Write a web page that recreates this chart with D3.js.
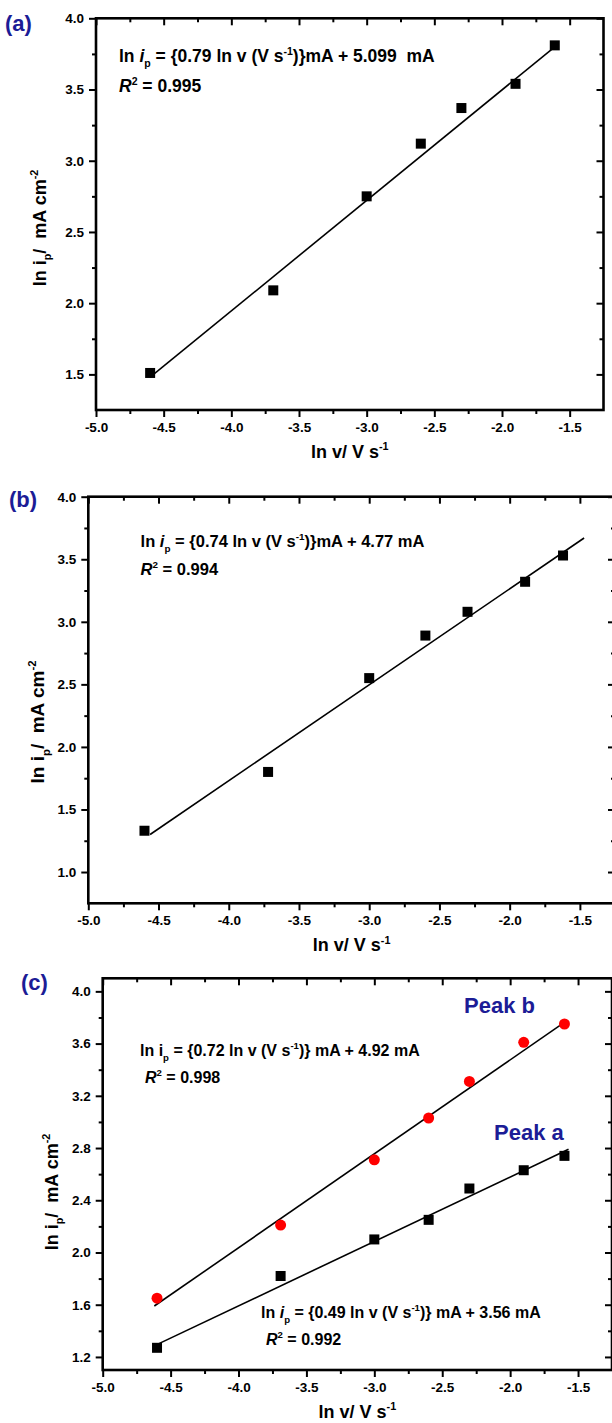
<!DOCTYPE html>
<html>
<head>
<meta charset="utf-8">
<script src="https://cdn.jsdelivr.net/npm/d3@7"></script>
<style>
  body { margin: 0; background: #fff; }
  svg { display: block; font-family: "Liberation Sans", Arial, sans-serif; font-weight: bold; }
  text { white-space: pre; }
</style>
</head>
<body>
<div id="chart"></div>
<script>
// ---- data ----
// (a)
const lnVa = [-4.60, -3.69, -3.00, -2.60, -2.30, -1.90, -1.61];
const lnIpA = [1.51, 2.09, 2.75, 3.12, 3.37, 3.54, 3.81];
const fitA = [[-4.60, 1.48], [-1.61, 3.80]];
// (b)
const lnVb = [-4.60, -3.72, -3.00, -2.60, -2.30, -1.89, -1.62];
const lnIpB = [1.33, 1.80, 2.55, 2.89, 3.08, 3.32, 3.53];
const fitB = [[-4.56, 1.30], [-1.47, 3.67]];
// (c)
const lnVc = [-4.60, -3.69, -3.00, -2.60, -2.30, -1.90, -1.60];
const peakB = [1.65, 2.21, 2.71, 3.03, 3.31, 3.61, 3.75];
const peakA = [1.27, 1.82, 2.10, 2.25, 2.49, 2.63, 2.74];
const fitPeakB = [[-4.62, 1.59], [-1.59, 3.77]];
const fitPeakA = [[-4.59, 1.30], [-1.57, 2.79]];

// tick values
const xTicks = [-5.0, -4.5, -4.0, -3.5, -3.0, -2.5, -2.0, -1.5];
const xMinor = [-4.75, -4.25, -3.75, -3.25, -2.75, -2.25, -1.75];
const yTicksAB = [1.0, 1.5, 2.0, 2.5, 3.0, 3.5, 4.0];
const yMinorAB = [0.75, 1.25, 1.75, 2.25, 2.75, 3.25, 3.75];
const yTicksC = [1.2, 1.6, 2.0, 2.4, 2.8, 3.2, 3.6, 4.0];
const yMinorC = [1.4, 1.8, 2.2, 2.6, 3.0, 3.4, 3.8];

const navy = "#1c1c96";

const svg = d3.select("#chart").append("svg")
  .attr("width", 612)
  .attr("height", 1423);

// write text made of plain / italic / sub / sup pieces
function rich(sel, parts, size) {
  let shift = 0;
  parts.forEach(([s, k]) => {
    const target = k === "sub" ? size * 0.3 : k === "sup" ? -size * 0.42 : 0;
    const ts = sel.append("tspan").attr("dy", target - shift).text(s);
    shift = target;
    if (k === "sub" || k === "sup") ts.attr("font-size", size * 0.6);
    if (k === "i") ts.attr("font-style", "italic");
  });
}

function panel(cfg) {
  const x = d3.scaleLinear().domain([-5, -1.25]).range([cfg.left, cfg.right]);
  const y = d3.scaleLinear().domain(cfg.yDomain).range([cfg.bottom, cfg.top]);
  const g = svg.append("g");
  const yt = cfg.yTicks.filter(v => v >= cfg.yDomain[0]);
  const ym = cfg.yMinor.filter(v => v > cfg.yDomain[0] && v < cfg.yDomain[1]);

  const fmt = d => d.toFixed(1);

  // bottom
  g.append("g").attr("transform", `translate(0,${cfg.bottom})`)
    .call(d3.axisBottom(x).tickValues(xTicks).tickSize(7).tickFormat(fmt).tickPadding(5));
  g.append("g").attr("transform", `translate(0,${cfg.bottom})`)
    .call(d3.axisBottom(x).tickValues(xMinor).tickSize(4).tickFormat(""));
  // top (ticks inside)
  g.append("g").attr("transform", `translate(0,${cfg.top})`)
    .call(d3.axisTop(x).tickValues(xTicks).tickSize(-7).tickFormat(""));
  g.append("g").attr("transform", `translate(0,${cfg.top})`)
    .call(d3.axisTop(x).tickValues(xMinor).tickSize(-4).tickFormat(""));
  // left
  g.append("g").attr("transform", `translate(${cfg.left},0)`)
    .call(d3.axisLeft(y).tickValues(yt).tickSize(7).tickFormat(fmt).tickPadding(5));
  g.append("g").attr("transform", `translate(${cfg.left},0)`)
    .call(d3.axisLeft(y).tickValues(ym).tickSize(4).tickFormat(""));
  // right (ticks inside)
  g.append("g").attr("transform", `translate(${cfg.right},0)`)
    .call(d3.axisRight(y).tickValues(yt).tickSize(-7).tickFormat(""));
  g.append("g").attr("transform", `translate(${cfg.right},0)`)
    .call(d3.axisRight(y).tickValues(ym).tickSize(-4).tickFormat(""));

  g.selectAll(".domain").remove();
  g.selectAll(".tick line").attr("stroke", "#000").attr("stroke-width", 2);
  g.selectAll(".tick text")
    .attr("fill", "#000")
    .attr("font-size", 13.5)
    .attr("font-family", "'Liberation Sans', Arial, sans-serif")
    .attr("font-weight", "bold");

  // frame
  g.append("rect")
    .attr("x", cfg.left).attr("y", cfg.top)
    .attr("width", cfg.right - cfg.left).attr("height", cfg.bottom - cfg.top)
    .attr("fill", "none").attr("stroke", "#000").attr("stroke-width", 2.6);

  // axis titles
  const xt = g.append("text")
    .attr("x", (cfg.left + cfg.right) / 2).attr("y", cfg.bottom + 48)
    .attr("text-anchor", "middle").attr("font-size", 18);
  rich(xt, [["ln v/ V s", ""], ["-1", "sup"]], 18);

  const ytxt = g.append("text")
    .attr("transform", `translate(${cfg.yTitleX},${cfg.yTitleY}) rotate(-90)`)
    .attr("text-anchor", "middle").attr("font-size", cfg.yTitleSize);
  rich(ytxt, [["ln i", ""], ["p", "sub"], ["/  mA cm", ""], ["-2", "sup"]], cfg.yTitleSize);

  // panel letter
  g.append("text")
    .attr("x", cfg.tagX).attr("y", cfg.tagY)
    .attr("font-size", 22).attr("fill", navy)
    .text(cfg.tag);

  const line = d3.line().x(d => x(d[0])).y(d => y(d[1]));
  cfg.fits.forEach(f => {
    g.append("path").datum(f).attr("d", line)
      .attr("fill", "none").attr("stroke", "#000").attr("stroke-width", 1.6);
  });

  cfg.series.forEach(s => {
    const pts = s.xs.map((v, i) => [v, s.ys[i]]);
    if (s.shape === "circle") {
      g.selectAll(null).data(pts).enter().append("circle")
        .attr("cx", d => x(d[0])).attr("cy", d => y(d[1]))
        .attr("r", 5.5).attr("fill", s.color);
    } else {
      g.selectAll(null).data(pts).enter().append("rect")
        .attr("x", d => x(d[0]) - 5).attr("y", d => y(d[1]) - 5)
        .attr("width", 10).attr("height", 10).attr("fill", s.color);
    }
  });

  cfg.notes.forEach(n => {
    const t = g.append("text").attr("x", n.x).attr("y", n.y)
      .attr("font-size", n.size).attr("fill", n.color || "#000");
    rich(t, n.parts, n.size);
  });
}

// (a)
panel({
  left: 96, right: 603.5, top: 18.3, bottom: 410,
  yDomain: [1.25, 4.0], yTicks: yTicksAB, yMinor: yMinorAB,
  yTitleX: 46, yTitleY: 228, yTitleSize: 18,
  tag: "(a)", tagX: 5, tagY: 31,
  fits: [fitA],
  series: [{ xs: lnVa, ys: lnIpA, shape: "square", color: "#000" }],
  notes: [
    { x: 119, y: 62, size: 17.5, parts: [["ln ", ""], ["i", "i"], ["p", "sub"], [" = {0.79 ln v (V s", ""], ["-1", "sup"], [")}mA + 5.099  mA", ""]] },
    { x: 119, y: 92, size: 17.5, parts: [["R", "i"], ["2", "sup"], [" = 0.995", ""]] }
  ]
});

// (b)
panel({
  left: 88.3, right: 615, top: 496.7, bottom: 903.3,
  yDomain: [0.75, 4.0], yTicks: yTicksAB, yMinor: yMinorAB,
  yTitleX: 44, yTitleY: 722, yTitleSize: 19,
  tag: "(b)", tagX: 9, tagY: 507,
  fits: [fitB],
  series: [{ xs: lnVb, ys: lnIpB, shape: "square", color: "#000" }],
  notes: [
    { x: 140.6, y: 547, size: 16.5, parts: [["ln ", ""], ["i", "i"], ["p", "sub"], [" = {0.74 ln v (V s", ""], ["-1", "sup"], [")}mA + 4.77 mA", ""]] },
    { x: 140.6, y: 575, size: 16.5, parts: [["R", "i"], ["2", "sup"], [" = 0.994", ""]] }
  ]
});

// (c)
panel({
  left: 102.7, right: 612, top: 978.3, bottom: 1370,
  yDomain: [1.1, 4.1], yTicks: yTicksC, yMinor: yMinorC,
  yTitleX: 58, yTitleY: 1192, yTitleSize: 18,
  tag: "(c)", tagX: 21, tagY: 990,
  fits: [fitPeakB, fitPeakA],
  series: [
    { xs: lnVc, ys: peakB, shape: "circle", color: "#ff0000" },
    { xs: lnVc, ys: peakA, shape: "square", color: "#000" }
  ],
  notes: [
    { x: 464, y: 1013, size: 22, color: navy, parts: [["Peak b", ""]] },
    { x: 494, y: 1140, size: 22, color: navy, parts: [["Peak a", ""]] },
    { x: 140, y: 1056, size: 16, parts: [["ln i", ""], ["p", "sub"], [" = {0.72 ln v (V s", ""], ["-1", "sup"], [")} mA + 4.92 mA", ""]] },
    { x: 145, y: 1083, size: 16, parts: [["R", "i"], ["2", "sup"], [" = 0.998", ""]] },
    { x: 261, y: 1318, size: 16, parts: [["ln ", ""], ["i", "i"], ["p", "sub"], [" = {0.49 ln v (V s", ""], ["-1", "sup"], [")} mA + 3.56 mA", ""]] },
    { x: 266, y: 1345, size: 16, parts: [["R", "i"], ["2", "sup"], [" = 0.992", ""]] }
  ]
});
</script>
</body>
</html>
